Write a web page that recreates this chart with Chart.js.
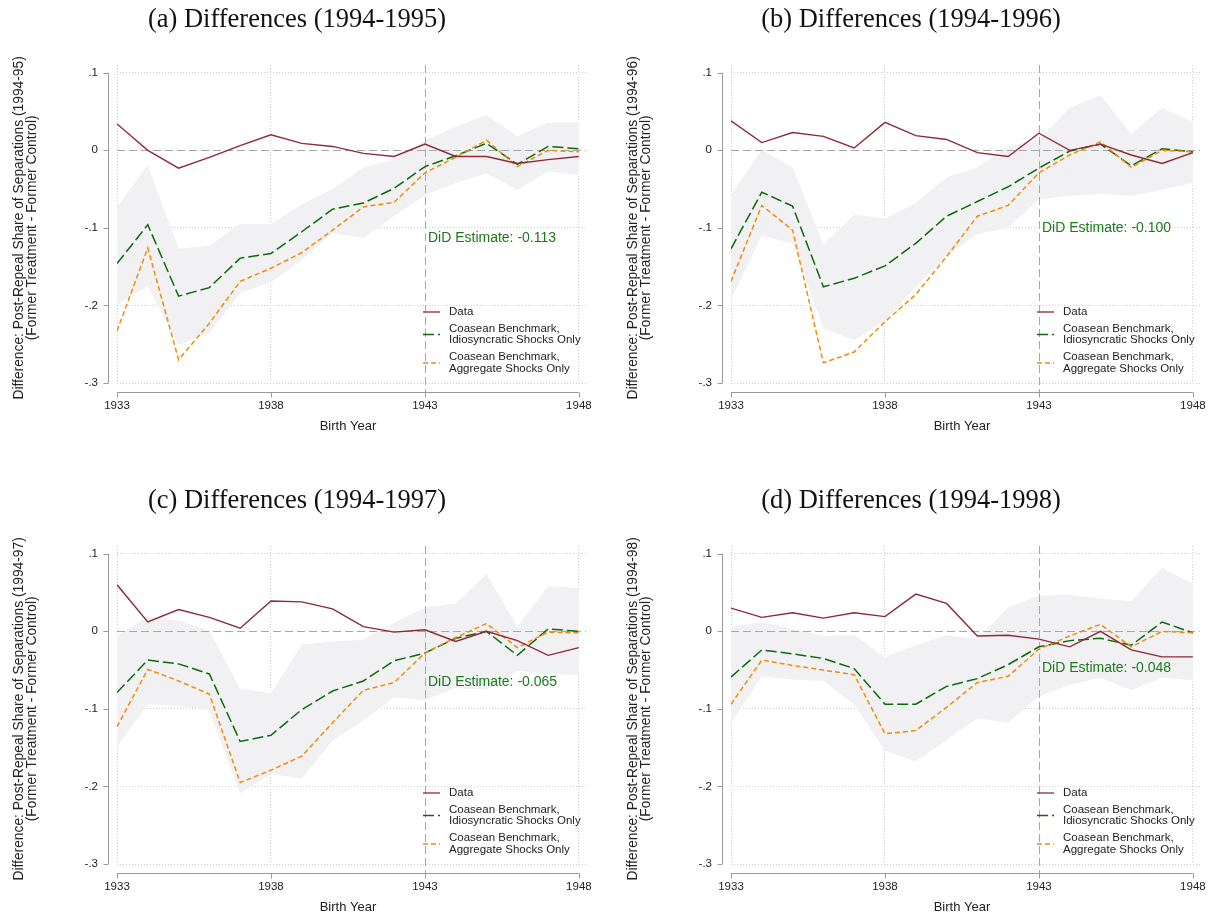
<!DOCTYPE html>
<html>
<head>
<meta charset="utf-8">
<script src="https://cdn.jsdelivr.net/npm/chart.js@4.4.1/dist/chart.umd.min.js"></script>
<style>
  body { margin: 0; background: #fff; }
  .panel { position: absolute; width: 608px; height: 460px; }
</style>
</head>
<body>
<div class="panel" style="left:0;top:0"><canvas id="c0" width="608" height="460"></canvas></div>
<div class="panel" style="left:614px;top:0"><canvas id="c1" width="608" height="460"></canvas></div>
<div class="panel" style="left:0;top:481px"><canvas id="c2" width="608" height="460"></canvas></div>
<div class="panel" style="left:614px;top:481px"><canvas id="c3" width="608" height="460"></canvas></div>
<script>
const years = [1933, 1934, 1935, 1936, 1937, 1938, 1939, 1940, 1941, 1942, 1943, 1944, 1945, 1946, 1947, 1948];
const xTicks = [1933, 1938, 1943, 1948];
const yTicks = [-0.3, -0.2, -0.1, 0, 0.1];
const treatYear = 1943;

const panelTitles = ['(a) Differences (1994-1995)', '(b) Differences (1994-1996)',
                     '(c) Differences (1994-1997)', '(d) Differences (1994-1998)'];
const yTitles = ['Difference: Post-Repeal Share of Separations (1994-95)',
                 'Difference: Post-Repeal Share of Separations (1994-96)',
                 'Difference: Post-Repeal Share of Separations (1994-97)',
                 'Difference: Post-Repeal Share of Separations (1994-98)'];
const yTitle2 = '(Former Treatment - Former Control)';
const xTitle = 'Birth Year';
const didEstimates = [-0.113, -0.100, -0.065, -0.048];
const seriesLabels = ['Data', 'Coasean Benchmark,\nIdiosyncratic Shocks Only', 'Coasean Benchmark,\nAggregate Shocks Only'];

// (a) 1994-1995
const dataA  = [0.034, 0.000, -0.023, -0.009, 0.006, 0.020, 0.009, 0.005, -0.004, -0.008, 0.008, -0.008, -0.008, -0.017, -0.012, -0.008];
const idioA  = [-0.146, -0.096, -0.188, -0.177, -0.139, -0.133, -0.105, -0.076, -0.068, -0.049, -0.021, -0.007, 0.009, -0.018, 0.005, 0.002];
const aggrA  = [-0.233, -0.126, -0.270, -0.223, -0.169, -0.152, -0.132, -0.103, -0.073, -0.067, -0.029, -0.009, 0.013, -0.021, 0.000, -0.002];
const bandHiA = [-0.073, -0.019, -0.127, -0.123, -0.095, -0.095, -0.070, -0.050, -0.022, -0.012, 0.013, 0.030, 0.046, 0.018, 0.036, 0.036];
const bandLoA = [-0.199, -0.175, -0.251, -0.236, -0.184, -0.170, -0.141, -0.107, -0.113, -0.085, -0.058, -0.042, -0.030, -0.051, -0.027, -0.032];

// (b) 1994-1996
const dataB  = [0.038, 0.010, 0.023, 0.018, 0.003, 0.036, 0.019, 0.014, -0.003, -0.008, 0.022, 0.000, 0.008, -0.006, -0.017, -0.003];
const idioB  = [-0.127, -0.054, -0.072, -0.176, -0.165, -0.149, -0.120, -0.085, -0.066, -0.047, -0.023, -0.001, 0.008, -0.020, 0.002, -0.002];
const aggrB  = [-0.169, -0.071, -0.103, -0.274, -0.260, -0.221, -0.186, -0.137, -0.085, -0.071, -0.029, -0.006, 0.011, -0.022, 0.000, -0.002];
const bandHiB = [-0.058, 0.001, -0.022, -0.121, -0.083, -0.088, -0.068, -0.035, -0.022, 0.005, 0.014, 0.055, 0.071, 0.021, 0.055, 0.036];
const bandLoB = [-0.192, -0.110, -0.120, -0.229, -0.245, -0.219, -0.176, -0.136, -0.108, -0.100, -0.063, -0.059, -0.056, -0.059, -0.051, -0.042];

// (c) 1994-1997
const dataC  = [0.060, 0.012, 0.028, 0.018, 0.004, 0.039, 0.038, 0.029, 0.006, -0.001, 0.002, -0.013, 0.000, -0.012, -0.031, -0.021];
const idioC  = [-0.079, -0.037, -0.042, -0.055, -0.142, -0.134, -0.101, -0.077, -0.064, -0.038, -0.028, -0.009, 0.000, -0.031, 0.003, 0.000];
const aggrC  = [-0.123, -0.049, -0.064, -0.081, -0.195, -0.179, -0.161, -0.118, -0.076, -0.066, -0.028, -0.008, 0.010, -0.021, -0.001, -0.002];
const bandHiC = [-0.006, 0.019, 0.014, 0.001, -0.074, -0.080, -0.017, -0.013, -0.011, 0.011, 0.031, 0.036, 0.074, 0.006, 0.058, 0.056];
const bandLoC = [-0.149, -0.094, -0.096, -0.102, -0.209, -0.184, -0.190, -0.141, -0.115, -0.085, -0.089, -0.073, -0.075, -0.051, -0.055, -0.056];

// (d) 1994-1998
const dataD  = [0.030, 0.018, 0.024, 0.017, 0.024, 0.019, 0.048, 0.036, -0.006, -0.005, -0.010, -0.020, 0.000, -0.024, -0.033, -0.033];
const idioD  = [-0.059, -0.024, -0.029, -0.035, -0.048, -0.094, -0.094, -0.071, -0.061, -0.043, -0.020, -0.012, -0.009, -0.018, 0.012, -0.002];
const aggrD  = [-0.094, -0.037, -0.044, -0.050, -0.056, -0.132, -0.128, -0.098, -0.066, -0.058, -0.023, -0.006, 0.009, -0.020, 0.000, -0.002];
const bandHiD = [0.006, 0.012, 0.003, -0.006, -0.005, -0.033, -0.018, -0.005, -0.010, 0.031, 0.046, 0.047, 0.042, 0.039, 0.082, 0.061];
const bandLoD = [-0.119, -0.058, -0.062, -0.064, -0.094, -0.154, -0.168, -0.140, -0.112, -0.118, -0.084, -0.069, -0.060, -0.076, -0.060, -0.063];

const panels = [
  [dataA, idioA, aggrA, bandLoA, bandHiA],
  [dataB, idioB, aggrB, bandLoB, bandHiB],
  [dataC, idioC, aggrC, bandLoC, bandHiC],
  [dataD, idioD, aggrD, bandLoD, bandHiD],
];

const RED = '#8f2a35', GREEN = '#0b6b0b', ORANGE = '#ef8c0a', BAND = '#f1f1f4';
const AXIS = '#9a9a9a', GRID = '#cfcfcf', REF = '#a8a8a8', TEXT = '#222';
const SANS = '"Liberation Sans", Arial, sans-serif';

const pts = arr => years.map((y, i) => ({ x: y, y: arr[i] }));
const fmtY = v => v === 0 ? '0' : (v < 0 ? '-' : '') + String(Math.abs(v).toFixed(1)).replace(/^0/, '');

// Stata-like frame: offset axes, reference lines, titles, legend and DiD note
const stataFrame = {
  id: 'stataFrame',
  afterDatasetDraw(chart, args) {
    if (args.index !== 1) return;
    const { ctx, chartArea: a, scales: { x, y } } = chart;
    ctx.save();
    ctx.strokeStyle = REF;
    ctx.lineWidth = 1;
    ctx.setLineDash([8, 4]);
    const y0 = Math.round(y.getPixelForValue(0)) + 0.5;
    ctx.beginPath(); ctx.moveTo(a.left, y0); ctx.lineTo(a.right, y0); ctx.stroke();
    const xt = Math.round(x.getPixelForValue(treatYear)) + 0.5;
    ctx.beginPath(); ctx.moveTo(xt, a.top); ctx.lineTo(xt, a.bottom + 9); ctx.stroke();
    ctx.restore();
  },
  afterDraw(chart, args, opts) {
    const { ctx, chartArea: a, scales: { x, y } } = chart;
    const p = opts.panel;
    ctx.save();
    ctx.strokeStyle = AXIS;
    ctx.lineWidth = 1;
    ctx.setLineDash([]);

    // y axis
    const ax = a.left - 8.5;
    ctx.beginPath();
    ctx.moveTo(ax, y.getPixelForValue(0.1));
    ctx.lineTo(ax, y.getPixelForValue(-0.3));
    yTicks.forEach(v => {
      const py = Math.round(y.getPixelForValue(v)) + 0.5;
      ctx.moveTo(ax, py); ctx.lineTo(ax - 5, py);
    });
    ctx.stroke();

    // x axis
    const ay = a.bottom + 9.5;
    ctx.beginPath();
    ctx.moveTo(x.getPixelForValue(1933), ay);
    ctx.lineTo(x.getPixelForValue(1948), ay);
    xTicks.forEach(v => {
      const px = Math.round(x.getPixelForValue(v)) + 0.5;
      ctx.moveTo(px, ay); ctx.lineTo(px, ay + 5);
    });
    ctx.stroke();

    // titles
    ctx.fillStyle = '#111';
    ctx.font = '26.5px "Liberation Serif", "DejaVu Serif", serif';
    ctx.textAlign = 'center';
    ctx.textBaseline = 'alphabetic';
    ctx.fillText(panelTitles[p], 297, 27);

    ctx.fillStyle = TEXT;
    ctx.font = '13px ' + SANS;
    ctx.textBaseline = 'middle';
    const xMid = (x.getPixelForValue(1933) + x.getPixelForValue(1948)) / 2;
    ctx.fillText(xTitle, xMid, 426);

    const yMid = (y.getPixelForValue(0.1) + y.getPixelForValue(-0.3)) / 2;
    ctx.font = '13.8px ' + SANS;
    ctx.save();
    ctx.translate(19, yMid);
    ctx.rotate(-Math.PI / 2);
    ctx.fillText(yTitles[p], 0, 0);
    ctx.fillText(yTitle2, 0, 13.5);
    ctx.restore();

    // DiD estimate note
    ctx.fillStyle = '#1b7a1b';
    ctx.font = '14px ' + SANS;
    ctx.textAlign = 'left';
    ctx.fillText('DiD Estimate: ' + didEstimates[p].toFixed(3), x.getPixelForValue(treatYear) + 3, y.getPixelForValue(didEstimates[p]));

    // legend
    const lx = a.left + 306;
    const rows = [312, 334.5, 363];
    ctx.font = '11.5px ' + SANS;
    chart.data.datasets.slice(2).forEach((ds, i) => {
      ctx.strokeStyle = ds.borderColor;
      ctx.lineWidth = 1.3;
      ctx.setLineDash(ds.borderDash || []);
      ctx.beginPath();
      ctx.moveTo(lx, rows[i]); ctx.lineTo(lx + 17, rows[i]);
      ctx.stroke();
      ctx.fillStyle = TEXT;
      const lines = ds.label.split('\n');
      lines.forEach((t, k) => {
        ctx.fillText(t, lx + 26, rows[i] + (k - (lines.length - 1) / 2) * 11.5);
      });
    });
    ctx.restore();
  }
};

panels.forEach((series, p) => {
  const [dat, idio, aggr, lo, hi] = series;
  new Chart(document.getElementById('c' + p), {
    type: 'line',
    data: {
      datasets: [
        { label: 'band low', data: pts(lo), borderWidth: 0, pointRadius: 0, fill: false, order: 10 },
        { label: 'band high', data: pts(hi), borderWidth: 0, pointRadius: 0, fill: '-1', backgroundColor: BAND, order: 9 },
        { label: seriesLabels[0], data: pts(dat), borderColor: RED, borderWidth: 1.4, pointRadius: 0, fill: false, order: 1 },
        { label: seriesLabels[1], data: pts(idio), borderColor: GREEN, borderWidth: 1.5, borderDash: [11, 4], pointRadius: 0, fill: false, order: 3 },
        { label: seriesLabels[2], data: pts(aggr), borderColor: ORANGE, borderWidth: 1.5, borderDash: [5, 3], pointRadius: 0, fill: false, order: 2 },
      ]
    },
    options: {
      responsive: false,
      animation: false,
      devicePixelRatio: 1,
      layout: { padding: { top: 65, right: 21, left: 0, bottom: 0 } },
      plugins: {
        legend: { display: false },
        tooltip: { enabled: false },
        stataFrame: { panel: p },
      },
      scales: {
        x: {
          type: 'linear',
          min: 1933,
          max: 1948.23,
          afterBuildTicks: s => { s.ticks = xTicks.map(v => ({ value: v })); },
          afterFit: s => { s.height = 77; },
          ticks: { color: TEXT, font: { size: 11.5, family: SANS }, padding: 16, maxRotation: 0, callback: v => String(v) },
          grid: { drawTicks: false, color: c => c.tick && c.tick.value === treatYear ? 'rgba(0,0,0,0)' : GRID, lineWidth: 1 },
          border: { display: false, dash: [1, 2] },
        },
        y: {
          min: -0.3,
          max: 0.11,
          afterBuildTicks: s => { s.ticks = yTicks.map(v => ({ value: v })); },
          afterFit: s => { s.width = 117; },
          ticks: { color: TEXT, font: { size: 11.5, family: SANS }, padding: 19, callback: v => fmtY(v) },
          grid: { drawTicks: false, color: c => c.tick && c.tick.value === 0 ? 'rgba(0,0,0,0)' : GRID, lineWidth: 1 },
          border: { display: false, dash: [1, 2] },
        }
      }
    },
    plugins: [stataFrame]
  });
});
</script>
</body>
</html>
